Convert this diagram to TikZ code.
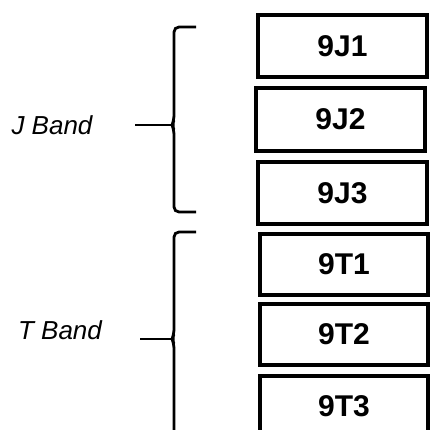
\documentclass[tikz,border=0pt]{standalone}
\usepackage{fontspec}
\setmainfont{Liberation Sans}
\begin{document}
\begin{tikzpicture}[x=1pt,y=-1pt,
  cell/.style={draw=black,line width=3.2pt,rectangle,inner sep=0pt,font=\fontsize{30}{32}\selectfont\bfseries},
  bandlabel/.style={inner sep=0pt,font=\fontsize{26}{28}\selectfont\itshape},
  bracestyle/.style={line width=2.8pt,line cap=butt,rounded corners=5pt}]
\useasboundingbox (0,0) rectangle (430,430);
\clip (0,0) rectangle (430,430);
\fill[white] (0,0) rectangle (430,430);
% boxes
\node[cell,minimum width=169pt,minimum height=62pt] (j1) at (342.5,46) {9J1};
\node[cell,minimum width=169pt,minimum height=63pt] (j2) at (340.5,119.5) {9J2};
\node[cell,minimum width=169pt,minimum height=62pt] (j3) at (342.5,193) {9J3};
\node[cell,minimum width=168pt,minimum height=61pt] (t1) at (344,264.5) {9T1};
\node[cell,minimum width=168pt,minimum height=61pt] (t2) at (344,334.5) {9T2};
\node[cell,minimum width=168pt,minimum height=69pt] (t3) at (344,410.5) {};
\node[font=\fontsize{30}{32}\selectfont\bfseries,inner sep=0pt] (t3l) at (344,406) {9T3};
% labels
\node[bandlabel] (jl) at (52,125) {J Band};
\node[bandlabel] (tl) at (60,330) {T Band};
% J brace
\coordinate (jtop) at (196,27);
\coordinate (jbot) at (196,212);
\coordinate (jtip) at (172,125);
\coordinate (jend) at (135,125);
\draw[bracestyle] (jtop) -- (174,27) -- (174,120) -- (jtip) -- (174,130) -- (174,212) -- (jbot);
\draw[line width=2.8pt] (jend) -- (jtip);
% T brace
\coordinate (ttop) at (196,232);
\coordinate (tbot) at (174,440);
\coordinate (ttip) at (172,339);
\coordinate (tend) at (140,339);
\draw[bracestyle] (ttop) -- (174,232) -- (174,334) -- (ttip) -- (174,344) -- (tbot);
\draw[line width=2.8pt] (tend) -- (ttip);
\end{tikzpicture}
\end{document}
